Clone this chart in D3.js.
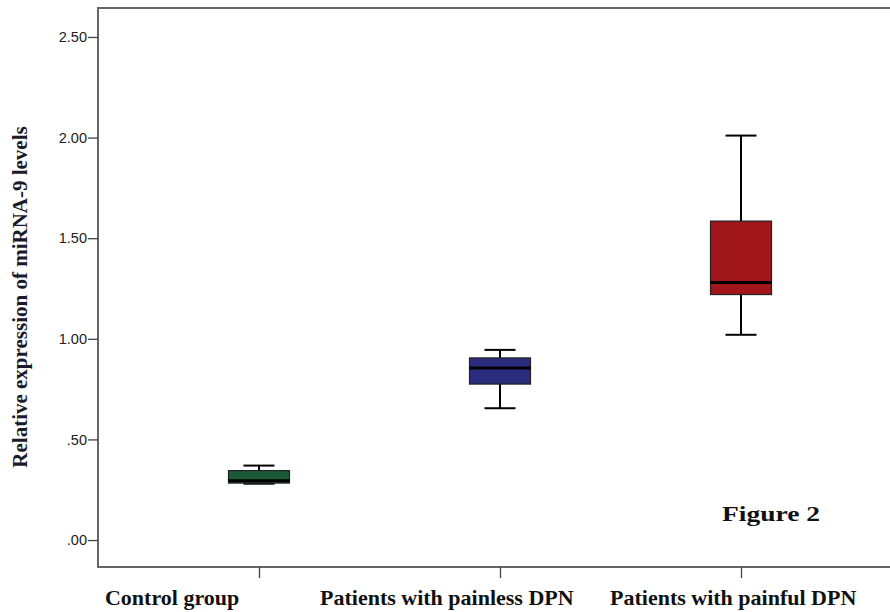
<!DOCTYPE html>
<html><head><meta charset="utf-8">
<script src="https://cdn.jsdelivr.net/npm/d3@7/dist/d3.min.js"></script>
<style>body{margin:0;background:#fff}svg{display:block}</style>
</head><body>
<svg id="chart" width="890" height="612"></svg>
<script>
// ---- data ----
const categories = ["Control group", "Patients with painless DPN", "Patients with painful DPN"];
const whiskerLow  = [0.28, 0.655, 1.02];
const q1          = [0.283, 0.775, 1.22];
const median      = [0.295, 0.855, 1.28];
const q3          = [0.345, 0.905, 1.585];
const whiskerHigh = [0.37, 0.945, 2.01];
const boxColors   = ["#1b5c37", "#2a2d7e", "#a1161b"];
const yTicks      = [0, 0.5, 1.0, 1.5, 2.0, 2.5];
const yTickLabels = [".00", ".50", "1.00", "1.50", "2.00", "2.50"];
const labelOffsets = [-154, -180, -131]; // x-label start relative to tick
const yTitle = "Relative expression of miRNA-9 levels";
const figLabel = "Figure 2";

(function () {
const svg = d3.select("#chart");
const pLeft = 98, pTop = 8, pBottom = 567, pRight = 902;
const serif = "Liberation Serif, Times New Roman, serif";

const y = d3.scaleLinear().domain([-0.134, 2.644]).range([pBottom, pTop]);
const x = d3.scalePoint().domain(categories).range([pLeft, pRight]).padding(0.668);

// frame (left, top, bottom)
svg.append("path")
  .attr("d", `M${pRight},${pTop}H${pLeft}V${pBottom}H${pRight}`)
  .attr("fill", "none").attr("stroke", "#666").attr("stroke-width", 2);

// y axis
const yAxis = d3.axisLeft(y).tickValues(yTicks)
  .tickFormat((d, i) => yTickLabels[i]).tickSize(10).tickPadding(1);
const gy = svg.append("g").attr("transform", `translate(${pLeft},0)`).call(yAxis);
gy.select(".domain").remove();
gy.selectAll(".tick line").attr("stroke", "#444").attr("stroke-width", 1.3);
gy.selectAll(".tick text").attr("font-family", "Liberation Sans, Arial, sans-serif")
  .attr("font-size", 14.5).attr("fill", "#222");

// x axis ticks
const xAxis = d3.axisBottom(x).tickSize(11).tickFormat("");
const gx = svg.append("g").attr("transform", `translate(0,${pBottom})`).call(xAxis);
gx.select(".domain").remove();
gx.selectAll(".tick line").attr("stroke", "#444").attr("stroke-width", 1.3);

// x labels
svg.append("g").selectAll("text").data(categories).join("text")
  .attr("x", (d, i) => x(d) + labelOffsets[i])
  .attr("y", 605)
  .attr("font-family", serif)
  .attr("font-weight", "bold").attr("font-size", 22).attr("fill", "#111")
  .text(d => d);

// y title
svg.append("text")
  .attr("transform", `translate(27,297) rotate(-90)`)
  .attr("text-anchor", "middle")
  .attr("font-family", serif)
  .attr("font-weight", "bold").attr("font-size", 21).attr("fill", "#1a1a2a")
  .text(yTitle);

// boxes
const boxW = 61, capW = 31;
const g = svg.append("g").selectAll("g").data(categories).join("g");
g.each(function (d, i) {
  const s = d3.select(this), cx = x(d);
  s.append("line").attr("x1", cx).attr("x2", cx)
    .attr("y1", y(whiskerHigh[i])).attr("y2", y(q3[i]))
    .attr("stroke", "#000").attr("stroke-width", 2);
  s.append("line").attr("x1", cx).attr("x2", cx)
    .attr("y1", y(q1[i])).attr("y2", y(whiskerLow[i]))
    .attr("stroke", "#000").attr("stroke-width", 2);
  s.append("line").attr("x1", cx - capW / 2).attr("x2", cx + capW / 2)
    .attr("y1", y(whiskerHigh[i])).attr("y2", y(whiskerHigh[i]))
    .attr("stroke", "#000").attr("stroke-width", 2);
  s.append("line").attr("x1", cx - capW / 2).attr("x2", cx + capW / 2)
    .attr("y1", y(whiskerLow[i])).attr("y2", y(whiskerLow[i]))
    .attr("stroke", "#000").attr("stroke-width", 2);
  s.append("rect").attr("x", cx - boxW / 2).attr("width", boxW)
    .attr("y", y(q3[i])).attr("height", y(q1[i]) - y(q3[i]))
    .attr("fill", boxColors[i]).attr("stroke", "#222").attr("stroke-width", 1.2);
  s.append("line").attr("x1", cx - boxW / 2).attr("x2", cx + boxW / 2)
    .attr("y1", y(median[i])).attr("y2", y(median[i]))
    .attr("stroke", "#000").attr("stroke-width", 3);
});

// figure label
svg.append("text").attr("x", 722).attr("y", 521)
  .attr("font-family", serif)
  .attr("font-weight", "bold").attr("font-size", 22).attr("fill", "#111")
  .attr("textLength", 98).attr("lengthAdjust", "spacingAndGlyphs")
  .text(figLabel);
})();
</script>
</body></html>
